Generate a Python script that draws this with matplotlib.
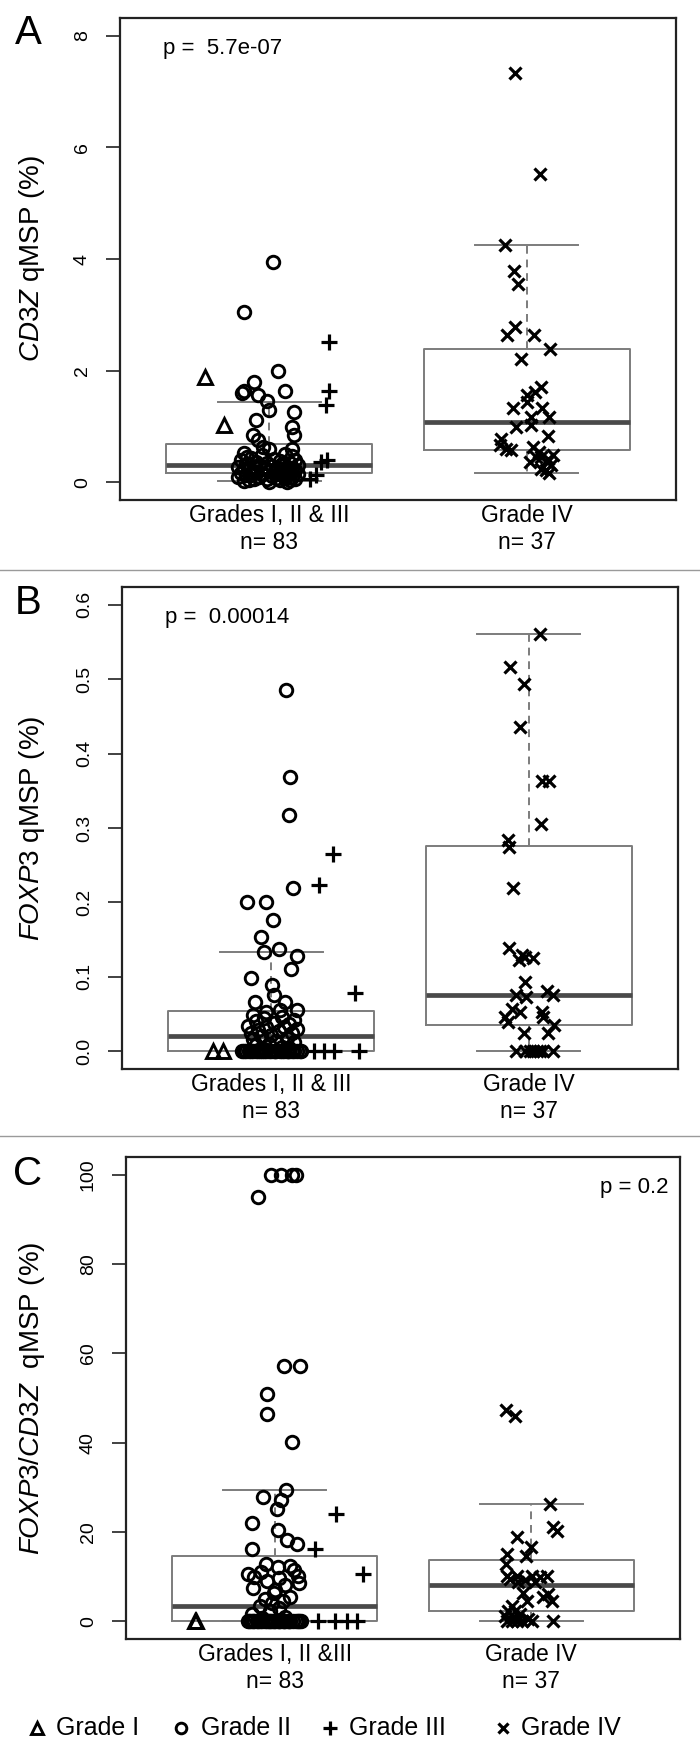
import numpy as np
import matplotlib
matplotlib.use('Agg')
import matplotlib.pyplot as plt
from matplotlib.lines import Line2D

plt.rcParams['font.family'] = ['Liberation Sans', 'DejaVu Sans']
plt.rcParams['mathtext.fontset'] = 'custom'
plt.rcParams['mathtext.it'] = 'Liberation Sans:italic'
plt.rcParams['mathtext.rm'] = 'Liberation Sans'

# ---------------- data ----------------
# Panel A: CD3Z qMSP (%)
a_g1 = [1.88, 1.03]
a_g1_jit = [-0.25, -0.175]
a_g2 = [3.94, 3.05, 2.00, 1.79, 1.64, 1.59, 1.57, 1.63, 1.45, 1.29,
        1.26, 1.12, 0.99, 0.84, 0.85, 0.75, 0.60, 0.63, 0.60, 0.45,
        0.52, 0.50, 0.48, 0.46, 0.44, 0.42, 0.40, 0.40, 0.38, 0.37,
        0.35, 0.34, 0.33, 0.32, 0.31, 0.30, 0.29, 0.28, 0.27, 0.27,
        0.26, 0.25, 0.24, 0.23, 0.22, 0.22, 0.21, 0.20, 0.19, 0.18,
        0.18, 0.17, 0.16, 0.15, 0.15, 0.14, 0.13, 0.12, 0.12, 0.11,
        0.10, 0.09, 0.09, 0.08, 0.07, 0.06, 0.05, 0.05, 0.04, 0.03,
        0.03, 0.02, 0.01, 0.01]
a_g2_jit = [0.013, -0.098, 0.035, -0.06, -0.10, -0.107, -0.045, 0.06, -0.01, -0.003,
            0.097, -0.052, 0.087, 0.095, -0.065, -0.042, 0.087, -0.026, 0.0, -0.085,
            -0.10, 0.06, -0.03, 0.09, -0.07, 0.02, 0.10, -0.11, 0.04, -0.05,
            0.08, -0.01, -0.09, 0.05, 0.11, -0.04, 0.01, -0.12, 0.07, -0.06,
            0.03, 0.09, -0.08, -0.02, 0.06, 0.10, -0.10, 0.00, 0.04, -0.05,
            0.08, -0.11, 0.02, -0.03, 0.07, 0.11, -0.07, 0.05, -0.09, 0.01,
            0.09, -0.04, -0.12, 0.03, 0.06, -0.06, 0.10, -0.01, -0.08, 0.04,
            0.08, -0.10, 0.00, 0.07]
a_g3 = [2.52, 1.64, 1.39, 0.40, 0.36, 0.12, 0.05]
a_g3_jit = [0.233, 0.23, 0.22, 0.226, 0.20, 0.18, 0.16]
a_g4 = [7.33, 5.52, 4.25, 3.79, 3.55, 2.79, 2.63, 2.63, 2.39, 2.20,
        1.70, 1.61, 1.57, 1.43, 1.33, 1.33, 1.17, 1.17, 1.03, 0.99,
        0.82, 0.78, 0.66, 0.60, 0.57, 0.63, 0.54, 0.45, 0.48, 0.36,
        0.36, 0.30, 0.24, 0.21, 0.17, 0.42, 0.45]
a_g4_jit = [-0.047, 0.05, -0.086, -0.049, -0.034, -0.044, -0.077, 0.027, 0.089, -0.023,
            0.057, 0.031, 0.003, 0.003, -0.053, 0.061, 0.086, 0.018, 0.016, -0.043,
            0.083, -0.099, -0.105, -0.082, -0.06, 0.025, 0.048, 0.057, 0.102, 0.012,
            0.077, 0.096, 0.057, 0.074, 0.086, 0.083, 0.038]
# box stats: [Grades I-III, Grade IV]
a_q1 = [0.17, 0.57]
a_med = [0.30, 1.08]
a_q3 = [0.68, 2.39]
a_lo = [0.02, 0.17]
a_hi = [1.43, 4.25]

# Panel B: FOXP3 qMSP (%)
b_g1 = [0.0, 0.0]
b_g1_jit = [-0.227, -0.188]
b_g2 = [0.485, 0.369, 0.318, 0.219, 0.200, 0.200, 0.176, 0.154, 0.138, 0.133,
        0.128, 0.111, 0.099, 0.089, 0.076, 0.066, 0.066, 0.055, 0.055, 0.052,
        0.048, 0.046, 0.044, 0.042, 0.040, 0.038, 0.036, 0.034, 0.033, 0.032,
        0.030, 0.028, 0.027, 0.025, 0.024, 0.022, 0.020, 0.018, 0.016, 0.014,
        0.012, 0.010, 0.008, 0.006, 0.004, 0.003,
        0, 0, 0, 0, 0, 0, 0, 0, 0, 0, 0, 0, 0, 0,
        0, 0, 0, 0, 0, 0, 0, 0, 0, 0, 0, 0, 0, 0]
b_g2_jit = [0.056, 0.074, 0.069, 0.085, -0.095, -0.022, 0.006, -0.04, 0.03, -0.03,
            0.1, 0.078, -0.08, 0.003, 0.01, -0.062, 0.054, 0.035, 0.1, -0.022,
            -0.07, 0.04, -0.03, 0.09, -0.06, 0.01, 0.07, -0.09, 0.05, -0.02,
            0.10, -0.05, 0.03, -0.08, 0.08, 0.00, -0.04, 0.06, -0.07, 0.02,
            0.09, -0.01, -0.06, 0.04, 0.07, -0.03,
            -0.115, -0.10, -0.088, -0.078, -0.07, -0.058, -0.05, -0.038, -0.03, -0.02,
            -0.008, 0.0, 0.012, 0.02, 0.032, 0.04, 0.05, 0.062, 0.07, 0.08,
            0.09, 0.10, 0.112, -0.105, -0.045, 0.015, 0.065, 0.117]
b_g3 = [0.265, 0.223, 0.078, 0.0, 0.0, 0.0, 0.0]
b_g3_jit = [0.24, 0.185, 0.325, 0.167, 0.206, 0.245, 0.339]
b_g4 = [0.561, 0.516, 0.494, 0.436, 0.363, 0.363, 0.306, 0.284, 0.275, 0.219,
        0.139, 0.129, 0.127, 0.125, 0.122, 0.093, 0.075, 0.081, 0.075, 0.073,
        0.057, 0.053, 0.046, 0.039, 0.053, 0.046, 0.035, 0.024, 0.024,
        0, 0, 0, 0, 0, 0, 0, 0]
b_g4_jit = [0.044, -0.073, -0.017, -0.034, 0.051, 0.077, 0.048, -0.082, -0.078, -0.062,
            -0.077, -0.027, -0.014, 0.018, -0.038, -0.014, -0.049, 0.07, 0.096, -0.01,
            -0.066, -0.034, -0.092, -0.082, 0.051, 0.057, 0.10, -0.017, 0.074,
            -0.049, -0.014, 0.005, 0.018, 0.031, 0.044, 0.096, 0.057]
b_q1 = [0.0, 0.035]
b_med = [0.021, 0.075]
b_q3 = [0.054, 0.276]
b_lo = [0.0, 0.0]
b_hi = [0.133, 0.561]

# Panel C: FOXP3/CD3Z qMSP (%)
c_g1 = [0.0, 0.0]
c_g1_jit = [-0.311, -0.306]
c_g2 = [100, 100, 100, 100, 95.0, 57.1, 57.1, 51.0, 46.5, 40.1,
        29.4, 27.8, 27.1, 25.1, 22.1, 20.4, 18.1, 17.2, 16.1,
        12.9, 12.3, 12.1, 11.4, 11.0, 10.5, 10.2, 10.0, 9.6, 9.0,
        8.5, 8.0, 7.4, 7.0, 6.2, 5.5, 5.0, 4.6, 4.0, 3.5,
        3.0, 2.2, 1.6, 1.0, 0.6,
        0, 0, 0, 0, 0, 0, 0, 0, 0, 0, 0, 0, 0, 0, 0,
        0, 0, 0, 0, 0, 0, 0, 0, 0, 0, 0, 0, 0, 0, 0]
c_g2_jit = [-0.016, 0.023, 0.068, 0.081, -0.067, 0.035, 0.098, -0.029, -0.032, 0.066,
            0.043, -0.045, 0.024, 0.007, -0.09, 0.013, 0.046, 0.085, -0.088,
            -0.036, 0.059, 0.011, 0.076, -0.054, -0.104, 0.091, -0.079, 0.016, -0.029,
            0.096, 0.041, -0.084, 0.001, -0.004, 0.061, -0.039, 0.031, -0.009, -0.059,
            0.016, -0.019, -0.089, 0.041, -0.049,
            -0.104, -0.094, -0.084, -0.069, -0.059, -0.049, -0.039, -0.029, -0.019, -0.009,
            0.001, 0.011, 0.021, 0.031, 0.041, 0.051, 0.061, 0.071, 0.081, 0.091,
            0.101, -0.099, -0.064, -0.024, 0.016, 0.056, 0.096, -0.079, -0.004, 0.036]
c_g3 = [24.1, 16.1, 10.5, 0.0, 0.0, 0.0, 0.0]
c_g3_jit = [0.237, 0.157, 0.345, 0.17, 0.235, 0.28, 0.319]
c_g4 = [47.4, 45.9, 26.2, 21.0, 20.2, 18.9, 16.7, 14.5, 15.0, 12.8,
        10.1, 10.1, 10.1, 10.1, 9.4, 9.2, 8.7, 6.0, 5.3, 4.5,
        6.4, 4.5, 3.4, 2.3, 2.3, 1.2, 1.6, 8.7, 9.8, 1.0, 0.4,
        0, 0, 0, 0, 0, 0]
c_g4_jit = [-0.099, -0.064, 0.073, 0.086, 0.099, -0.057, -0.002, -0.021, -0.095, -0.099,
            0.06, -0.057, 0.002, -0.096, -0.083, -0.025, 0.014, 0.066, 0.047, 0.08,
            -0.031, -0.018, -0.076, -0.09, -0.064, -0.103, -0.044, -0.052, 0.034, -0.071, -0.013,
            -0.096, -0.076, -0.057, -0.037, 0.002, 0.086]
c_q1 = [0.0, 2.3]
c_med = [3.5, 8.05]
c_q3 = [14.5, 13.7]
c_lo = [0.0, 0.0]
c_hi = [29.4, 26.2]

groups = ['Grades I, II & III\nn= 83', 'Grade IV\nn= 37']
groups_c = ['Grades I, II &III\nn= 83', 'Grade IV\nn= 37']
legend_labels = ['Grade I', 'Grade II', 'Grade III', 'Grade IV']

# ---------------- figure ----------------
W, H = 700, 1759
fig = plt.figure(figsize=(W / 100, H / 100), dpi=100)

box_col = '#7c7c7c'
mstyle = [dict(marker='^', ms=9.5, mew=2.1, mfc='none'),
          dict(marker='o', ms=9, mew=2.1, mfc='none'),
          dict(marker='+', ms=12, mew=2.3),
          dict(marker='x', ms=9, mew=2.3)]


def panel(rect, q1, med, q3, lo, hi, pts, ylim, yticks, ylabels, ylab, xlabels,
          ptxt, ploc, letter, letter_y, ylab_x):
    l, t, r, b = rect
    ax = fig.add_axes([l / W, 1 - b / H, (r - l) / W, (b - t) / H])
    stats = [dict(q1=q1[i], med=med[i], q3=q3[i], whislo=lo[i], whishi=hi[i])
             for i in range(2)]
    ax.bxp(stats, positions=[1, 2], widths=0.8, capwidths=0.4, showfliers=False,
           manage_ticks=False,
           boxprops=dict(color=box_col, lw=1.4),
           whiskerprops=dict(color=box_col, lw=1.4, ls=(0, (4, 3))),
           capprops=dict(color=box_col, lw=1.4),
           medianprops=dict(color='#4a4a4a', lw=3.4))
    for k, (vals, jit) in enumerate(pts):
        base = 2 if k == 3 else 1
        ax.plot(base + np.array(jit), vals, ls='none', color='black', mec='black',
                zorder=4, **mstyle[k])

    ax.set_xlim(0.42, 2.58)
    ax.set_ylim(*ylim)
    ax.set_xticks([1, 2], xlabels, fontsize=16.5)
    ax.tick_params(axis='x', length=0, pad=3)
    ax.set_yticks(yticks, ylabels, rotation=90, va='center', fontsize=14)
    ax.tick_params(axis='y', length=10, width=1.3, pad=11, color='#333333')
    for s in ax.spines.values():
        s.set_linewidth(1.6)
        s.set_color('#222222')
    ax.set_ylabel(ylab, fontsize=20, va='center')
    ax.yaxis.set_label_coords((ylab_x - l) / (r - l), 0.5)

    px, py, pha = ploc
    ax.text((px - l) / (r - l), (b - py) / (b - t), ptxt, transform=ax.transAxes,
            fontsize=16, ha=pha, va='center')
    fig.text(28 / W, 1 - letter_y / H, letter, fontsize=29, ha='center', va='center')
    return ax


panel((120, 18, 676, 500), a_q1, a_med, a_q3, a_lo, a_hi,
      [(a_g1, a_g1_jit), (a_g2, a_g2_jit), (a_g3, a_g3_jit), (a_g4, a_g4_jit)],
      (-0.32, 8.32), [0, 2, 4, 6, 8], ['0', '2', '4', '6', '8'],
      r'$\mathit{CD3Z}$ qMSP (%)', groups,
      'p =  5.7e-07', (163, 48, 'left'), 'A', 33, 32)

panel((122, 587, 678, 1069), b_q1, b_med, b_q3, b_lo, b_hi,
      [(b_g1, b_g1_jit), (b_g2, b_g2_jit), (b_g3, b_g3_jit), (b_g4, b_g4_jit)],
      (-0.024, 0.624), [0, 0.1, 0.2, 0.3, 0.4, 0.5, 0.6],
      ['0.0', '0.1', '0.2', '0.3', '0.4', '0.5', '0.6'],
      r'$\mathit{FOXP3}$ qMSP (%)', groups,
      'p =  0.00014', (165, 618, 'left'), 'B', 603, 32)

panel((126, 1157, 680, 1639), c_q1, c_med, c_q3, c_lo, c_hi,
      [(c_g1, c_g1_jit), (c_g2, c_g2_jit), (c_g3, c_g3_jit), (c_g4, c_g4_jit)],
      (-4, 104), [0, 20, 40, 60, 80, 100], ['0', '20', '40', '60', '80', '100'],
      r'$\mathit{FOXP3/CD3Z}$  qMSP (%)', groups_c,
      'p = 0.2', (668, 1188, 'right'), 'C', 1174, 32)

# separators between panels
for yy in [570, 1136]:
    fig.add_artist(Line2D([0, 1], [1 - yy / H, 1 - yy / H], transform=fig.transFigure,
                          color='#9a9a9a', lw=1.0))

# legend row (marker x, text x in pixels)
leg_marker_x = [37, 181, 330, 503]
leg_text_x = [56, 201, 349, 521]
leg_y = 1 - 1728 / H
for k, lab in enumerate(legend_labels):
    st = dict(mstyle[k])
    st['ms'] = st['ms'] * 0.85
    fig.add_artist(Line2D([leg_marker_x[k] / W], [leg_y], transform=fig.transFigure,
                          ls='none', color='black', mec='black', **st))
    fig.text(leg_text_x[k] / W, leg_y, lab, fontsize=18, ha='left', va='center')

fig.savefig('out.png', dpi=100)
